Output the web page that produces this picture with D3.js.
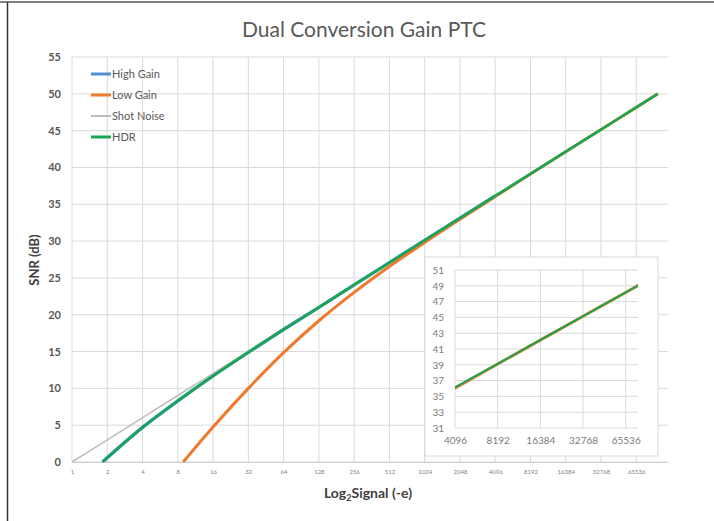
<!DOCTYPE html>
<html>
<head>
<meta charset="utf-8">
<script src="https://cdn.jsdelivr.net/npm/d3@7"></script>
<style>
  body { margin: 0; background: #fff; }
  svg { display: block; font-family: Lato, "Open Sans", sans-serif; }
</style>
</head>
<body>
<div id="chart"></div>
<script>
// values (signal in electrons, SNR in dB)
var xTicks = [1, 2, 4, 8, 16, 32, 64, 128, 256, 512, 1024, 2048, 4096, 8192, 16384, 32768, 65536];
var yTicks = [0, 5, 10, 15, 20, 25, 30, 35, 40, 45, 50, 55];
var insetXTicks = [4096, 8192, 16384, 32768, 65536];
var insetYTicks = [31, 33, 35, 37, 39, 41, 43, 45, 47, 49, 51];

var highGainX = [1.82, 4, 8, 16, 32, 64, 128, 256, 512, 1024, 2048, 4096];
var highGainY = [0, 4.7, 8.3, 11.7, 14.9, 18.0, 21.0, 24.06, 27.08, 30.1, 33.11, 36.12];

var lowGainX = [8.9, 16, 32, 64, 128, 256, 512, 1024, 2048, 4096, 8192, 16384, 32768, 65536, 100000];
var lowGainY = [0, 4.74, 10.0, 14.85, 19.18, 23.03, 26.54, 29.82, 32.97, 36.05, 39.1, 42.13, 45.15, 48.16, 50.0];

var shotX = [1, 2, 4, 8, 16, 32, 64, 128, 256, 512, 1024, 2048, 4096, 8192, 16384, 32768, 65536, 100000];
var shotY = [0, 3.01, 6.02, 9.03, 12.04, 15.05, 18.06, 21.07, 24.08, 27.09, 30.1, 33.11, 36.12, 39.13, 42.14, 45.15, 48.16, 50.0];

var hdrX = [1.82, 4, 8, 16, 32, 64, 128, 256, 512, 1024, 2048, 4096, 8192, 16384, 32768, 65536, 100000];
var hdrY = [0, 4.7, 8.3, 11.7, 14.9, 18.0, 21.0, 24.06, 27.08, 30.1, 33.11, 36.14, 39.12, 42.14, 45.15, 48.16, 50.0];

var W = 714, H = 521;
var svg = d3.select('#chart').append('svg')
    .attr('width', W)
    .attr('height', H);

// frame lines of the screenshot
svg.append('line').attr('x1', 0).attr('x2', W).attr('y1', 2).attr('y2', 2)
    .attr('stroke', '#555').attr('stroke-width', 1.5);
svg.append('line').attr('x1', 7.5).attr('x2', 7.5).attr('y1', 2).attr('y2', H)
    .attr('stroke', '#333').attr('stroke-width', 1.5);

svg.append('text')
    .attr('x', 364).attr('y', 37)
    .attr('text-anchor', 'middle')
    .attr('font-size', 21)
    .attr('fill', '#595959')
    .text('Dual Conversion Gain PTC');

var x = d3.scaleLog().base(2).domain([1, Math.pow(2, 16.9)]).range([72, 668]);
var y = d3.scaleLinear().domain([0, 55]).range([462, 57]);

var grid = svg.append('g');
grid.selectAll('.vg').data(xTicks).enter().append('line')
    .attr('x1', function(d){ return x(d); }).attr('x2', function(d){ return x(d); })
    .attr('y1', y(55)).attr('y2', y(0))
    .attr('stroke', '#d9d9d9').attr('stroke-width', 1);
grid.selectAll('.hg').data(yTicks).enter().append('line')
    .attr('x1', x.range()[0]).attr('x2', x.range()[1])
    .attr('y1', function(d){ return y(d); }).attr('y2', function(d){ return y(d); })
    .attr('stroke', '#d9d9d9').attr('stroke-width', 1);

var xAxis = d3.axisBottom(x).tickValues(xTicks).tickSize(0).tickPadding(8).tickFormat(d3.format('d'));
var gx = svg.append('g').attr('transform', 'translate(0,' + y(0) + ')').call(xAxis);
gx.select('.domain').attr('stroke', '#d0d0d0');
gx.selectAll('text').attr('font-size', 6).attr('fill', '#7f7f7f').attr('font-family', 'Lato, sans-serif');

var yAxis = d3.axisLeft(y).tickValues(yTicks).tickSize(0).tickPadding(11);
var gy = svg.append('g').attr('transform', 'translate(' + x.range()[0] + ',0)').call(yAxis);
gy.select('.domain').remove();
gy.selectAll('text').attr('font-size', 11).attr('font-weight', 'bold').attr('fill', '#595959').attr('font-family', 'Lato, sans-serif');

svg.append('text')
    .attr('transform', 'translate(39,260) rotate(-90)')
    .attr('text-anchor', 'middle')
    .attr('font-size', 13).attr('font-weight', 'bold').attr('fill', '#404040')
    .text('SNR (dB)');

var xt = svg.append('text')
    .attr('x', 368).attr('y', 498)
    .attr('text-anchor', 'middle')
    .attr('font-size', 14).attr('font-weight', 'bold').attr('fill', '#404040');
xt.append('tspan').text('Log');
xt.append('tspan').attr('font-size', 9).attr('dy', 3).text('2');
xt.append('tspan').attr('dy', -3).text('Signal (-e)');

function zipPts(xs, ys){ return xs.map(function(v, i){ return [v, ys[i]]; }); }

var series = [
    { name: 'High Gain', xs: highGainX, ys: highGainY, color: '#4f8fd6', w: 3.4 },
    { name: 'Low Gain', xs: lowGainX, ys: lowGainY, color: '#ef7a2e', w: 3 },
    { name: 'Shot Noise', xs: shotX, ys: shotY, color: '#bdbdbd', w: 1.5 },
    { name: 'HDR', xs: hdrX, ys: hdrY, color: '#18a650', w: 2.6 }
];

svg.append('clipPath').attr('id', 'mainclip').append('rect')
    .attr('x', 72).attr('y', 50).attr('width', 600).attr('height', 412.5);

var line = d3.line()
    .x(function(d){ return x(d[0]); })
    .y(function(d){ return y(d[1]); })
    .curve(d3.curveMonotoneX);

svg.append('g').attr('clip-path', 'url(#mainclip)')
    .selectAll('path').data(series).enter().append('path')
    .attr('d', function(s){ return line(zipPts(s.xs, s.ys)); })
    .attr('fill', 'none')
    .attr('stroke', function(s){ return s.color; })
    .attr('stroke-width', function(s){ return s.w; })
    .attr('stroke-linejoin', 'round');

// legend
var leg = svg.append('g').attr('transform', 'translate(91,74)');
var li = leg.selectAll('g').data(series).enter().append('g')
    .attr('transform', function(d, i){ return 'translate(0,' + (i * 21) + ')'; });
li.append('line').attr('x1', 0).attr('x2', 20).attr('y1', 0).attr('y2', 0)
    .attr('stroke', function(s){ return s.color; })
    .attr('stroke-width', function(s){ return s.name == 'Shot Noise' ? 2 : 3; });
li.append('text').attr('x', 21).attr('y', 4)
    .attr('font-size', 11).attr('fill', '#595959')
    .text(function(s){ return s.name; });

// inset
svg.append('rect')
    .attr('x', 425).attr('y', 257).attr('width', 233).attr('height', 199)
    .attr('fill', '#fff').attr('stroke', '#d9d9d9').attr('stroke-width', 1);

var xi = d3.scaleLog().base(2).domain([4096, 80000]).range([455, 638]);
var yi = d3.scaleLinear().domain([31, 51]).range([428, 270]);

var ig = svg.append('g');
ig.selectAll('.vg').data(insetXTicks).enter().append('line')
    .attr('x1', function(d){ return xi(d); }).attr('x2', function(d){ return xi(d); })
    .attr('y1', yi(51)).attr('y2', yi(31))
    .attr('stroke', '#d9d9d9');
ig.selectAll('.hg').data(insetYTicks).enter().append('line')
    .attr('x1', xi.range()[0]).attr('x2', xi.range()[1])
    .attr('y1', function(d){ return yi(d); }).attr('y2', function(d){ return yi(d); })
    .attr('stroke', '#d9d9d9');

var gxi = svg.append('g').attr('transform', 'translate(0,' + yi(31) + ')')
    .call(d3.axisBottom(xi).tickValues(insetXTicks).tickSize(0).tickPadding(9).tickFormat(d3.format('d')));
gxi.select('.domain').remove();
gxi.selectAll('text').attr('font-size', 10).attr('fill', '#7a7a7a').attr('font-family', 'Lato, sans-serif');

var gyi = svg.append('g').attr('transform', 'translate(' + xi.range()[0] + ',0)')
    .call(d3.axisLeft(yi).tickValues(insetYTicks).tickSize(0).tickPadding(11));
gyi.select('.domain').remove();
gyi.selectAll('text').attr('font-size', 10).attr('fill', '#7a7a7a').attr('font-family', 'Lato, sans-serif');

svg.append('clipPath').attr('id', 'insetclip').append('rect')
    .attr('x', 455).attr('y', 265).attr('width', 183).attr('height', 163);

var iline = d3.line()
    .x(function(d){ return xi(d[0]); })
    .y(function(d){ return yi(d[1]); })
    .curve(d3.curveMonotoneX);

svg.append('g').attr('clip-path', 'url(#insetclip)')
    .selectAll('path').data(series.filter(function(s){ return s.name == 'Low Gain' || s.name == 'HDR'; }))
    .enter().append('path')
    .attr('d', function(s){ return iline(zipPts(s.xs, s.ys)); })
    .attr('fill', 'none')
    .attr('stroke', function(s){ return s.color; })
    .attr('stroke-width', function(s){ return s.name == 'HDR' ? 2 : 3; });
</script>
</body>
</html>
